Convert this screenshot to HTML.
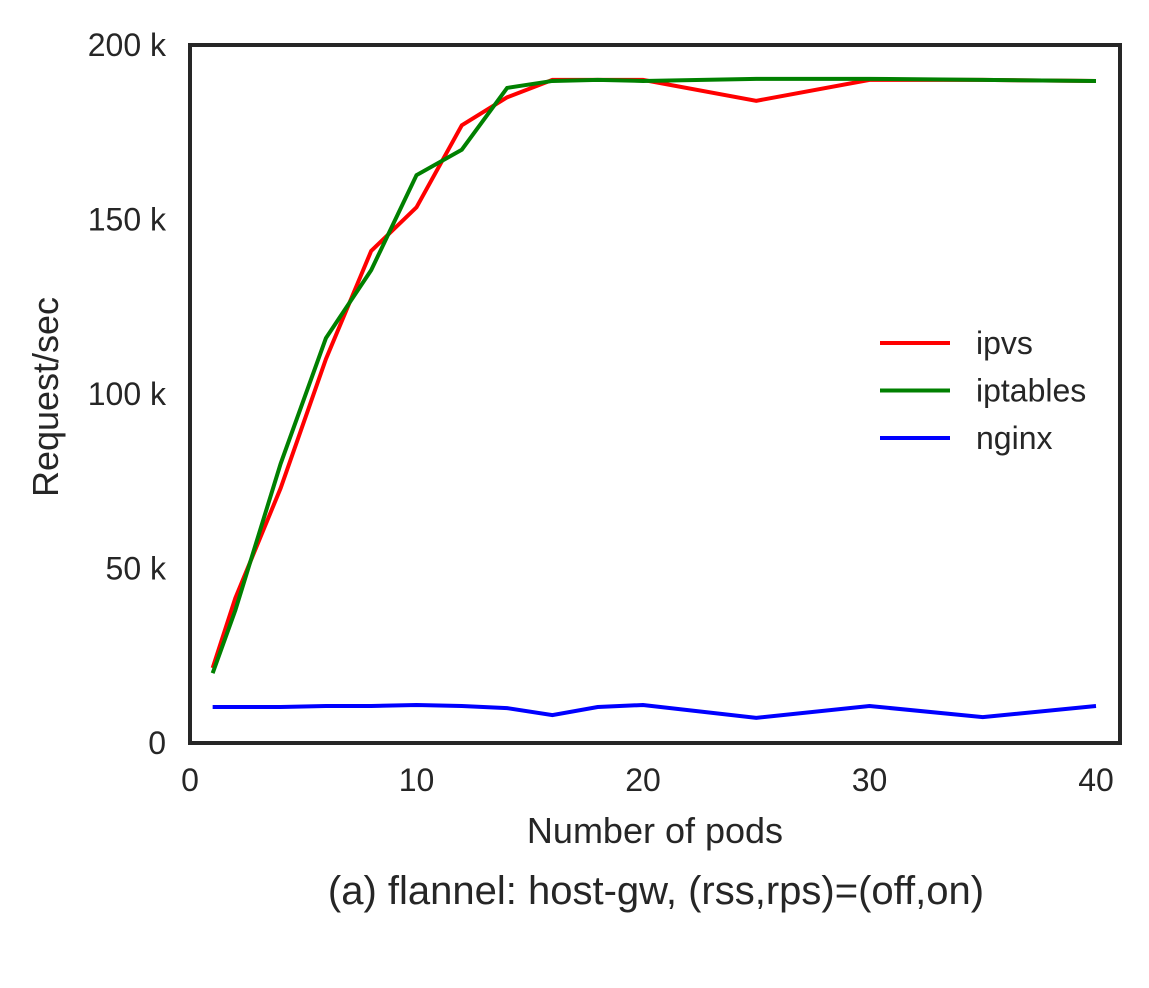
<!DOCTYPE html>
<html><head><meta charset="utf-8"><style>
html,body{margin:0;padding:0;background:#fff;}
svg text{font-family:"Liberation Sans",Arial,sans-serif;fill:#262626;}
</style></head><body>
<svg id="chart" width="1149" height="983" xmlns="http://www.w3.org/2000/svg">
<g id="marks"></g>
<rect x="190" y="45" width="930" height="698" fill="none" stroke="#262626" stroke-width="4"/>
<g id="ticks"></g>
<text x="655" y="843" font-size="36" text-anchor="middle">Number of pods</text>
<text transform="translate(58,397) rotate(-90)" font-size="36" text-anchor="middle">Request/sec</text>
<text x="656" y="904" font-size="40" text-anchor="middle">(a) flannel: host-gw, (rss,rps)=(off,on)</text>
<g id="legend"></g>
</svg>
<script>
const xs = [1,2,4,6,8,10,12,14,16,18,20,25,30,35,40];
const ipvs = [21.5,41.5,73,110,141,153.5,177,185,190,190,190,184,190,190,189.7];
const iptables = [20,38,80,116,135.5,162.7,170,187.7,189.7,190,189.7,190.3,190.3,190,189.7];
const nginx = [10.3,10.3,10.3,10.6,10.6,10.9,10.6,10,8,10.3,10.9,7.2,10.6,7.4,10.6];
const xTicks = [0,10,20,30,40];
const yTicks = [0,50,100,150,200];
const yTickLabels = ["0","50 k","100 k","150 k","200 k"];
const seriesNames = ["ipvs","iptables","nginx"];
const seriesColors = ["#ff0000","#008000","#0000ff"];

const X = v => 190 + v * 22.65;
const Y = v => 743 - v * 3.49;
const NS = "http://www.w3.org/2000/svg";
const marks = document.getElementById('marks');
const ticks = document.getElementById('ticks');
const legend = document.getElementById('legend');
[ipvs, iptables, nginx].forEach((s, i) => {
  const p = document.createElementNS(NS, 'polyline');
  p.setAttribute('points', s.map((v, j) => X(xs[j]) + ',' + Y(v)).join(' '));
  p.setAttribute('fill', 'none');
  p.setAttribute('stroke', seriesColors[i]);
  p.setAttribute('stroke-width', '4');
  
  
  marks.appendChild(p);
  const l = document.createElementNS(NS, 'line');
  const ly = 343 + i * 47.5;
  l.setAttribute('x1', 880); l.setAttribute('x2', 950);
  l.setAttribute('y1', ly); l.setAttribute('y2', ly);
  l.setAttribute('stroke', seriesColors[i]); l.setAttribute('stroke-width', '4');
  
  
  legend.appendChild(l);
  const t = document.createElementNS(NS, 'text');
  t.setAttribute('x', 976); t.setAttribute('y', ly + 11);
  t.setAttribute('font-size', '32');
  t.textContent = seriesNames[i];
  
  
  legend.appendChild(t);
});
xTicks.forEach(v => {
  const t = document.createElementNS(NS, 'text');
  t.setAttribute('x', X(v)); t.setAttribute('y', 791);
  t.setAttribute('font-size', '32'); t.setAttribute('text-anchor', 'middle');
  t.textContent = v;
  
  
  ticks.appendChild(t);
});
yTicks.forEach((v, i) => {
  const t = document.createElementNS(NS, 'text');
  t.setAttribute('x', 166); t.setAttribute('y', Y(v) + 11);
  t.setAttribute('font-size', '32'); t.setAttribute('text-anchor', 'end');
  t.textContent = yTickLabels[i];
  
  
  ticks.appendChild(t);
});
</script>
</body></html>
